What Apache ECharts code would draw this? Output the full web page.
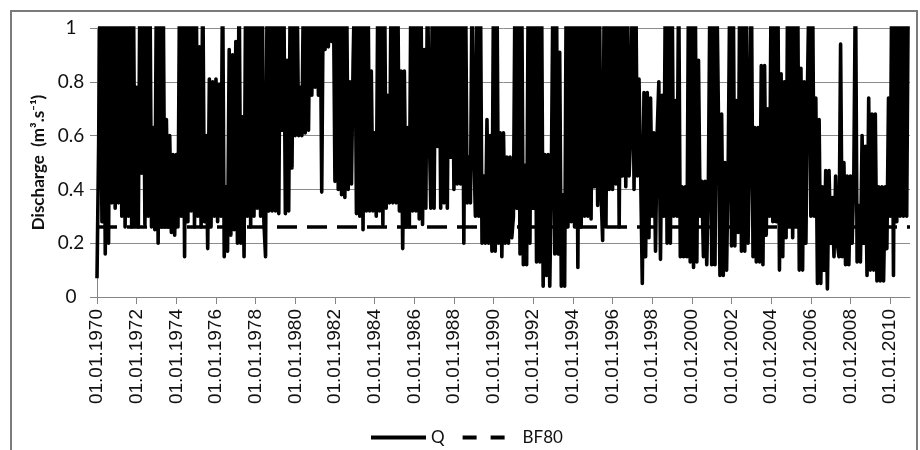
<!DOCTYPE html>
<html>
<head>
<meta charset="utf-8">
<script src="https://cdn.jsdelivr.net/npm/echarts@6/dist/echarts.min.js"></script>
<style>
  html, body { margin: 0; padding: 0; background: #fff; }
  #chart { width: 920px; height: 450px; }
</style>
</head>
<body>
<div id="chart"></div>
<script>
// monthly discharge readings (m3/s), Jan..Dec per row; values above 1 are clipped by the axis
const q1970s = [
  0.07, 0.57, 1.2, 0.28, 1.2, 0.16, 1.2, 0.2, 1.2, 0.35, 1.2, 0.33,
  1.2, 0.35, 1.2, 0.3, 1.2, 0.26, 1.2, 0.3, 1.2, 0.26, 1.2, 0.27,
  0.78, 0.26, 1.2, 0.46, 1.2, 0.27, 1.2, 0.3, 1.2, 0.26, 0.63, 0.25,
  1.2, 0.2, 1.2, 0.26, 1.2, 0.26, 0.66, 0.26, 0.6, 0.24, 0.53, 0.23,
  0.53, 0.26, 1.2, 0.3, 1.2, 0.15, 1.2, 0.28, 1.2, 0.32, 1.2, 0.26,
  1.2, 0.3, 0.93, 0.26, 1.2, 0.28, 0.6, 0.18, 0.81, 0.26, 0.8, 0.3,
  0.81, 0.28, 0.79, 0.3, 1.2, 0.15, 0.41, 0.17, 0.92, 0.23, 0.9, 0.25,
  0.95, 0.2, 1.2, 0.2, 0.67, 0.15, 1.2, 0.3, 1.2, 0.26, 1.2, 0.3,
  1.2, 0.33, 1.2, 0.3, 1.2, 0.28, 0.15, 1.2, 0.32, 1.2, 0.32, 1.2,
  0.32, 1.2, 0.31, 1.2, 0.62, 1.2, 0.31, 0.88, 0.32, 1.2, 0.48, 1.2
];
const q1980s = [
  0.6, 1.2, 0.6, 0.78, 0.6, 1.2, 0.61, 1.2, 0.62, 1.2, 0.75, 1.2,
  0.78, 1.2, 0.75, 1.2, 0.39, 1.2, 0.92, 1.2, 0.93, 1.2, 0.95, 1.2,
  0.43, 1.2, 0.4, 1.2, 0.38, 1.2, 0.37, 1.2, 0.4, 0.8, 0.42, 0.88,
  1.2, 0.31, 1.2, 0.3, 1.2, 0.25, 1.2, 0.32, 1.2, 0.32, 0.84, 0.32,
  0.61, 0.3, 1.2, 0.32, 1.2, 0.27, 1.2, 0.33, 0.75, 0.35, 1.2, 0.35,
  1.2, 0.35, 1.2, 0.32, 0.84, 0.18, 0.84, 0.26, 0.63, 0.26, 1.2, 0.32,
  1.2, 0.32, 1.2, 0.29, 1.2, 0.27, 0.92, 0.33, 1.2, 0.65, 0.33, 1.2,
  0.33, 1.2, 0.56, 1.2, 0.33, 1.2, 0.35, 1.2, 0.33, 1.2, 0.52, 1.2,
  0.4, 1.2, 0.42, 1.2, 0.42, 1.2, 0.2, 1.2, 0.35, 0.52, 0.35, 1.2,
  0.56, 0.3, 1.2, 0.3, 1.2, 0.2, 0.45, 0.2, 0.66, 0.2, 0.6, 0.17
];
const q1990s = [
  1.2, 0.17, 1.2, 0.2, 0.61, 0.15, 0.61, 0.2, 0.52, 0.2, 0.52, 0.22,
  0.3, 1.2, 0.33, 1.2, 0.16, 1.2, 0.12, 0.49, 0.12, 1.2, 0.2, 1.2,
  0.33, 1.2, 0.13, 1.2, 0.13, 1.2, 0.04, 0.53, 0.08, 0.53, 0.04, 0.48,
  1.2, 0.16, 1.2, 0.16, 0.91, 0.04, 0.38, 0.04, 1.2, 0.26, 1.2, 0.28,
  1.2, 0.26, 1.2, 0.11, 1.2, 0.26, 1.2, 0.3, 1.2, 0.3, 1.2, 0.29,
  1.2, 0.41, 1.2, 0.34, 1.2, 0.4, 0.21, 1.2, 0.26, 1.2, 0.4, 1.2,
  0.4, 1.2, 0.42, 1.2, 0.26, 1.2, 0.45, 1.2, 0.41, 1.2, 0.45, 0.61,
  1.2, 0.4, 1.2, 0.45, 0.81, 0.46, 0.05, 0.76, 0.15, 0.76, 0.22, 0.74,
  0.3, 0.61, 0.17, 0.61, 0.8, 0.14, 0.75, 0.3, 1.2, 0.2, 1.2, 0.2,
  1.2, 0.3, 0.73, 0.3, 1.2, 0.15, 0.41, 0.15, 0.41, 0.15, 1.2, 0.13
];
const q2000s = [
  1.2, 0.11, 1.2, 0.13, 0.88, 0.3, 0.43, 0.15, 0.43, 0.12, 0.43, 1.2,
  0.12, 1.2, 0.12, 1.2, 0.71, 0.08, 0.68, 0.08, 0.5, 0.1, 0.5, 1.2,
  0.19, 1.2, 0.19, 0.73, 0.24, 1.2, 0.17, 1.2, 0.17, 1.2, 0.2, 0.57,
  1.2, 0.15, 0.63, 0.13, 0.63, 0.13, 0.86, 0.12, 0.86, 0.23, 0.7, 0.3,
  1.2, 0.28, 1.2, 0.28, 1.2, 0.1, 0.83, 0.15, 0.8, 0.22, 1.2, 0.27,
  1.2, 0.22, 1.2, 0.27, 1.2, 0.1, 0.85, 0.1, 0.8, 0.2, 0.8, 1.2,
  0.3, 1.2, 0.3, 0.74, 0.05, 0.66, 0.05, 0.41, 0.1, 0.47, 0.03, 0.47,
  0.2, 0.37, 0.15, 0.45, 0.2, 0.15, 0.94, 0.15, 0.5, 0.12, 0.45, 0.12,
  0.45, 0.2, 0.45, 1.2, 0.13, 0.34, 0.13, 0.6, 0.2, 0.56, 0.08, 0.74,
  0.1, 0.68, 0.1, 0.68, 0.06, 0.41, 0.06, 0.41, 0.06, 0.41, 0.18, 0.74
];
const q2010s = [
  0.3, 1.2, 0.08, 1.2, 0.28, 1.2, 0.3, 1.2, 0.3, 1.2, 0.3, 1.2
];

// BF80 threshold, flat over the whole record
const bf80Years = [1970, 2011];
const bf80Values = [0.26, 0.26];

const tickYears = [1970, 1972, 1974, 1976, 1978, 1980, 1982, 1984, 1986, 1988, 1990,
  1992, 1994, 1996, 1998, 2000, 2002, 2004, 2006, 2008, 2010];

// one point per month, starting 1 January of the decade
function monthly(startYear, values) {
  return values.map((v, i) => [startYear + i / 12, v]);
}

const qData = [].concat(
  monthly(1970, q1970s),
  monthly(1980, q1980s),
  monthly(1990, q1990s),
  monthly(2000, q2000s),
  monthly(2010, q2010s)
);
const bfData = bf80Years.map((y, i) => [y, bf80Values[i]]);

const chart = echarts.init(document.getElementById('chart'), null, { renderer: 'canvas' });
chart.setOption({
  backgroundColor: '#fff',
  animation: false,
  graphic: [{
    type: 'rect',
    shape: { x: 11, y: 11, width: 906, height: 460 },
    style: { fill: 'none', stroke: '#7b7b7b', lineWidth: 2 },
    silent: true
  }],
  grid: { left: 97, right: 10, top: 28, bottom: 153 },
  legend: {
    top: 424,
    left: 364,
    itemWidth: 55,
    itemHeight: 12,
    itemGap: 16,
    itemStyle: { color: 'rgba(0,0,0,0)', opacity: 0, borderWidth: 0 },
    lineStyle: { width: 4 },
    textStyle: { fontFamily: 'Lato', fontSize: 17, color: '#111' },
    data: [
      { name: 'Q' },
      { name: 'BF80', lineStyle: { type: [14, 14], width: 4 } }
    ]
  },
  xAxis: {
    type: 'value',
    min: 1970,
    max: 2011,
    axisLine: { lineStyle: { color: '#858585', width: 1 } },
    axisTick: { customValues: tickYears, length: 7, lineStyle: { color: '#858585' } },
    axisLabel: {
      customValues: tickYears,
      rotate: 90,
      margin: 12,
      fontFamily: 'Liberation Sans',
      fontSize: 19,
      color: '#111',
      formatter: v => '01.01.' + v
    },
    splitLine: { show: false }
  },
  yAxis: {
    type: 'value',
    min: 0,
    max: 1,
    interval: 0.2,
    name: 'Discharge  (m³.s⁻¹)',
    nameLocation: 'middle',
    nameGap: 50,
    nameTextStyle: { fontFamily: 'Lato', fontWeight: 'bold', fontSize: 17, color: '#111' },
    axisLine: { show: true, lineStyle: { color: '#858585', width: 1 } },
    axisTick: { show: true, length: 7, lineStyle: { color: '#858585' } },
    axisLabel: {
      margin: 26,
      align: 'center',
      fontFamily: 'Lato',
      fontSize: 19,
      color: '#111'
    },
    splitLine: { lineStyle: { color: '#8c8c8c', width: 1 } }
  },
  series: [
    {
      name: 'Q',
      type: 'line',
      data: qData,
      symbol: 'none',
      clip: true,
      lineStyle: { color: '#000', width: 3.6, join: 'round' },
      itemStyle: { color: '#000' }
    },
    {
      name: 'BF80',
      type: 'line',
      data: bfData,
      symbol: 'none',
      lineStyle: { color: '#000', width: 3.5, type: [20, 10] },
      itemStyle: { color: '#000' }
    }
  ]
});
</script>
</body>
</html>
